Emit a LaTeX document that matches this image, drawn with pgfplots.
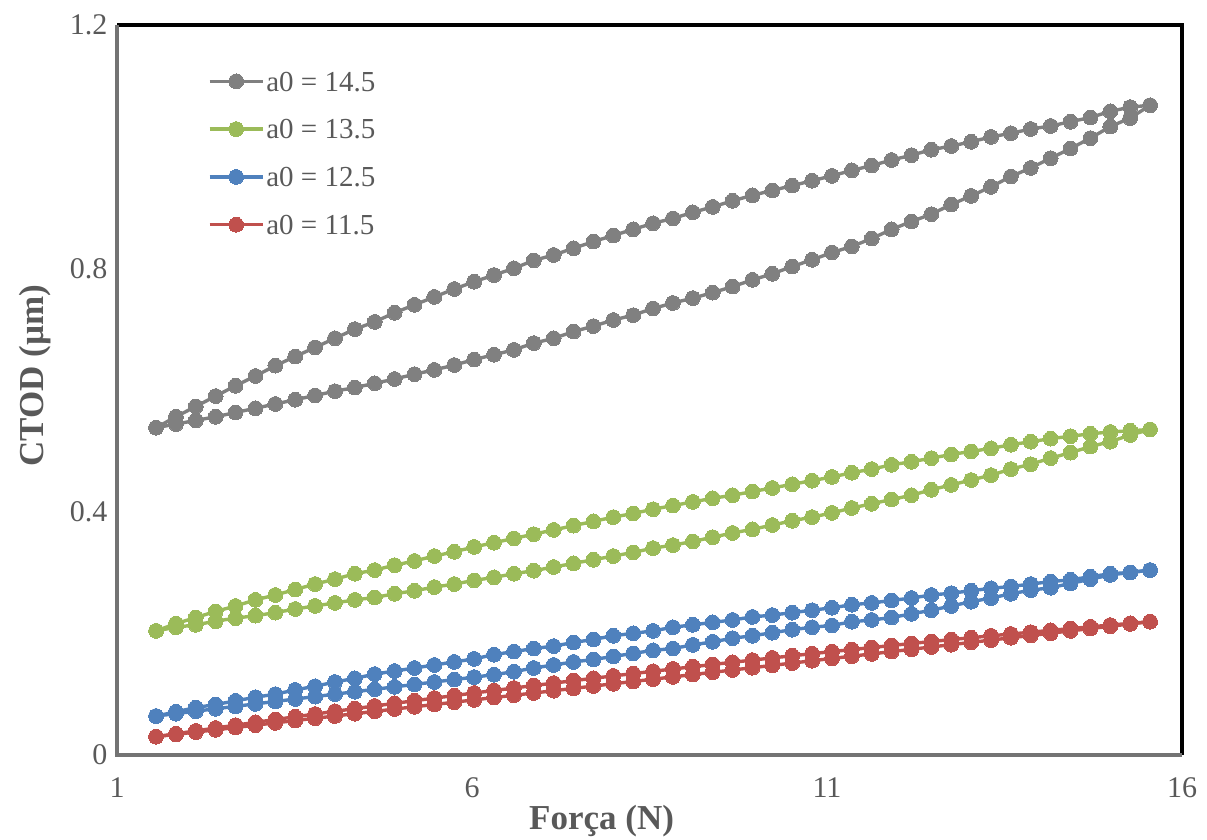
\documentclass[border=0pt]{standalone}
\usepackage{fontspec}
\setmainfont{Liberation Serif}
\usepackage{pgfplots}
\usepackage{pgfplotstable}
\pgfplotsset{compat=1.18}
\definecolor{cgray}{HTML}{808080}
\definecolor{cgreen}{HTML}{9BBB59}
\definecolor{cblue}{HTML}{4F81BD}
\definecolor{cred}{HTML}{C0504D}
\definecolor{txt}{HTML}{595959}
\pgfplotstableread{
x gl gu nl nu bl bu rl ru
1.55 0.538 0.538 0.204 0.204 0.064 0.064 0.0301 0.0301
1.83 0.544 0.556 0.210 0.216 0.068 0.071 0.0339 0.0349
2.11 0.550 0.573 0.214 0.226 0.072 0.078 0.0377 0.0396
2.39 0.556 0.590 0.220 0.236 0.076 0.083 0.0414 0.0444
2.67 0.563 0.607 0.225 0.245 0.080 0.089 0.0452 0.0490
2.95 0.570 0.623 0.229 0.255 0.084 0.095 0.0490 0.0537
3.23 0.577 0.640 0.234 0.263 0.088 0.100 0.0528 0.0583
3.51 0.584 0.655 0.240 0.272 0.092 0.107 0.0566 0.0628
3.79 0.591 0.670 0.245 0.281 0.096 0.113 0.0604 0.0673
4.07 0.598 0.685 0.250 0.289 0.100 0.120 0.0641 0.0718
4.35 0.604 0.700 0.255 0.298 0.104 0.126 0.0679 0.0762
4.63 0.611 0.712 0.259 0.304 0.108 0.133 0.0717 0.0806
4.91 0.618 0.727 0.265 0.312 0.112 0.138 0.0755 0.0849
5.19 0.626 0.740 0.270 0.319 0.116 0.143 0.0793 0.0892
5.47 0.633 0.753 0.276 0.327 0.120 0.148 0.0830 0.0935
5.75 0.641 0.766 0.281 0.334 0.124 0.153 0.0868 0.0977
6.03 0.650 0.778 0.287 0.342 0.128 0.158 0.0906 0.1019
6.31 0.658 0.789 0.292 0.349 0.132 0.165 0.0944 0.1060
6.59 0.666 0.800 0.298 0.356 0.137 0.170 0.0982 0.1101
6.87 0.677 0.813 0.303 0.363 0.143 0.175 0.1019 0.1142
7.15 0.685 0.822 0.309 0.370 0.148 0.179 0.1057 0.1182
7.43 0.696 0.833 0.315 0.377 0.153 0.185 0.1095 0.1222
7.71 0.705 0.844 0.321 0.384 0.157 0.190 0.1133 0.1261
7.99 0.715 0.854 0.327 0.391 0.162 0.196 0.1171 0.1300
8.27 0.723 0.864 0.333 0.397 0.167 0.200 0.1208 0.1338
8.55 0.734 0.874 0.340 0.404 0.172 0.204 0.1246 0.1376
8.83 0.743 0.882 0.345 0.410 0.175 0.210 0.1284 0.1414
9.11 0.751 0.892 0.351 0.416 0.181 0.214 0.1322 0.1451
9.39 0.760 0.901 0.358 0.422 0.186 0.218 0.1360 0.1488
9.67 0.770 0.911 0.365 0.427 0.192 0.222 0.1397 0.1524
9.95 0.781 0.920 0.371 0.433 0.196 0.227 0.1435 0.1560
10.23 0.791 0.928 0.378 0.439 0.201 0.230 0.1473 0.1596
10.51 0.803 0.936 0.385 0.445 0.206 0.234 0.1511 0.1631
10.79 0.814 0.944 0.391 0.451 0.210 0.238 0.1549 0.1665
11.07 0.826 0.952 0.398 0.457 0.213 0.242 0.1587 0.1700
11.35 0.836 0.961 0.406 0.464 0.219 0.247 0.1624 0.1733
11.63 0.849 0.969 0.413 0.470 0.222 0.250 0.1662 0.1767
11.91 0.864 0.978 0.420 0.477 0.226 0.254 0.1700 0.1800
12.19 0.877 0.986 0.427 0.482 0.232 0.258 0.1738 0.1833
12.47 0.889 0.995 0.436 0.488 0.238 0.263 0.1776 0.1865
12.75 0.905 1.001 0.444 0.494 0.245 0.266 0.1813 0.1897
13.03 0.919 1.008 0.452 0.499 0.252 0.270 0.1851 0.1928
13.31 0.934 1.016 0.460 0.504 0.258 0.274 0.1889 0.1959
13.59 0.951 1.022 0.470 0.510 0.265 0.277 0.1927 0.1989
13.87 0.965 1.029 0.478 0.515 0.271 0.281 0.1965 0.2019
14.15 0.981 1.034 0.488 0.520 0.275 0.285 0.2002 0.2049
14.43 0.997 1.041 0.497 0.524 0.282 0.288 0.2040 0.2078
14.71 1.014 1.048 0.507 0.528 0.289 0.293 0.2078 0.2107
14.99 1.033 1.058 0.515 0.531 0.296 0.298 0.2116 0.2136
15.27 1.047 1.065 0.526 0.533 0.300 0.300 0.2154 0.2164
15.55 1.068 1.068 0.535 0.535 0.304 0.304 0.2191 0.2191
}\data
\begin{document}
\begin{tikzpicture}
\begin{axis}[
  scale only axis, width=532.5pt, height=365pt,
  xmin=1, xmax=16, ymin=0, ymax=1.2,
  xtick={1,6,11,16}, xticklabels={1,6,11,16},
  ytick={0,0.4,0.8,1.2}, yticklabels={0,0.4,0.8,1.2},
  major tick length=0pt,
  axis line style={draw=none},
  clip=false,
  tick label style={font=\fontsize{15}{17}\selectfont, text=txt},
  xticklabel style={yshift=-8pt},
  yticklabel style={xshift=-1.3pt},
  every axis x label/.style={at={(axis description cs:0.455,-0.0589)}, anchor=north, font=\fontsize{17.5}{20}\selectfont\bfseries, text=txt},
  every axis y label/.style={at={(axis description cs:-0.0554,0.52)}, rotate=90, anchor=south, font=\fontsize{17.5}{20}\selectfont\bfseries, text=txt},
  xlabel={Força (N)},
  ylabel={CTOD (µm)},
  legend style={draw=none, fill=none, inner sep=0pt, outer sep=0pt,
    at={(axis description cs:0.0854,0.939)}, anchor=north west,
    font=\fontsize{14.5}{16}\selectfont, text=txt,
    nodes={inner sep=1pt, text height=9.8pt, text depth=0pt},
    row sep=12.1pt, column sep=0pt},
  legend cell align=left,
  legend image code/.code={\draw[mark repeat=2,mark phase=2,#1] plot coordinates {(0pt,0pt) (13.25pt,0pt) (26.5pt,0pt)};},
  every axis plot/.append style={line width=1.7pt, mark=*, mark size=3.7pt},
]
\addplot[cgray, mark options={fill=cgray, draw=cgray, line width=0pt}] table[x=x,y=gl]{\data};
\addlegendentry{a0 = 14.5}
\addplot[cgray, mark options={fill=cgray, draw=cgray, line width=0pt}, forget plot] table[x=x,y=gu]{\data};
\addplot[cgreen, mark options={fill=cgreen, draw=cgreen, line width=0pt}] table[x=x,y=nl]{\data};
\addlegendentry{a0 = 13.5}
\addplot[cgreen, mark options={fill=cgreen, draw=cgreen, line width=0pt}, forget plot] table[x=x,y=nu]{\data};
\addplot[cblue, mark options={fill=cblue, draw=cblue, line width=0pt}] table[x=x,y=bl]{\data};
\addlegendentry{a0 = 12.5}
\addplot[cblue, mark options={fill=cblue, draw=cblue, line width=0pt}, forget plot] table[x=x,y=bu]{\data};
\addplot[cred, mark options={fill=cred, draw=cred, line width=0pt}] table[x=x,y=rl]{\data};
\addlegendentry{a0 = 11.5}
\addplot[cred, mark options={fill=cred, draw=cred, line width=0pt}, forget plot] table[x=x,y=ru]{\data};
\draw[black, line width=1.6pt] (rel axis cs:0,1) -- (rel axis cs:1,1) -- (rel axis cs:1,0);
\draw[black!55, line width=1.6pt] (rel axis cs:0,1) -- (rel axis cs:0,0) -- (rel axis cs:1,0);
\coordinate (sw) at (rel axis cs:0,0);
\coordinate (ne) at (rel axis cs:1,1);
\end{axis}
\pgfresetboundingbox
\path[use as bounding box] ([xshift=-58.5pt,yshift=-42pt]sw) rectangle ([xshift=12.5pt,yshift=12.5pt]ne);
\end{tikzpicture}
\end{document}
